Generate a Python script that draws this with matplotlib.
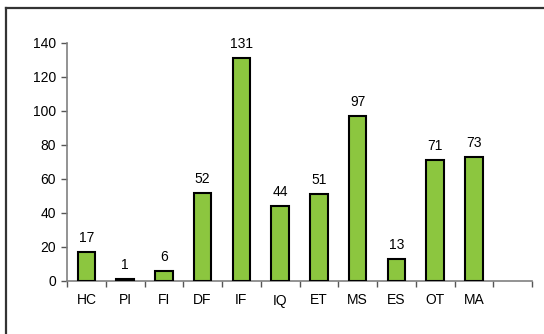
import matplotlib.pyplot as plt
from matplotlib.lines import Line2D
import numpy as np

categories = ["HC", "PI", "FI", "DF", "IF", "IQ", "ET", "MS", "ES", "OT", "MA"]
counts = [17, 1, 6, 52, 131, 44, 51, 97, 13, 71, 73]

plt.rcParams["font.family"] = ["Liberation Sans", "DejaVu Sans"]

fig = plt.figure(figsize=(5.44, 3.34), dpi=100)
ax = fig.add_axes([67 / 544, 1 - 281 / 334, (532 - 67) / 544, (281 - 43) / 334])

x = np.arange(len(categories)) + 0.5
ax.bar(x, counts, width=0.45, color="#8CC63F", edgecolor="black", linewidth=1.5, zorder=3)
for xi, v in zip(x, counts):
    ax.annotate(str(v), (xi, v), xytext=(0, 5), textcoords="offset points",
                ha="center", va="bottom", fontsize=10)

ax.set_xlim(0, 12)
ax.set_ylim(0, 140)
ax.set_yticks(range(0, 141, 20))
ax.set_xticks(x)
ax.set_xticklabels(categories)
ax.set_xticks(np.arange(0, 13), minor=True)
ax.tick_params(axis="x", which="major", length=0, pad=9, labelsize=10)
ax.tick_params(axis="x", which="minor", length=4, width=1, color="#555555")
ax.tick_params(axis="y", length=4, width=1, color="#555555", labelsize=10, pad=4)

for s in ["top", "right"]:
    ax.spines[s].set_visible(False)
for s in ["left", "bottom"]:
    ax.spines[s].set_color("#808080")
    ax.spines[s].set_linewidth(1.2)

# outer chart frame (only top and left edges visible in the crop)
fig.add_artist(Line2D([6 / 544, 1.0], [1 - 7.5 / 334] * 2, color="#333333", lw=1.6))
fig.add_artist(Line2D([6 / 544] * 2, [0, 1 - 7.5 / 334], color="#333333", lw=1.6))

fig.savefig("out.png", dpi=100)
